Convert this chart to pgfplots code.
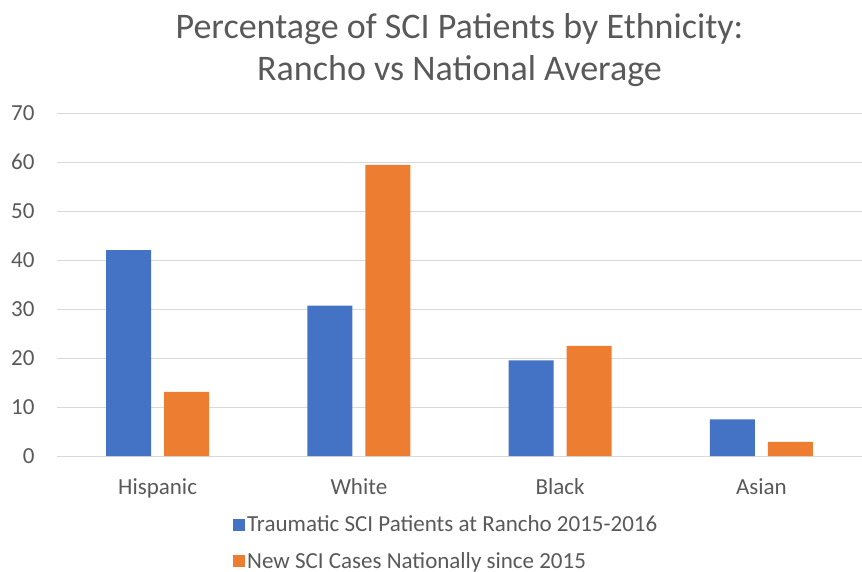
\documentclass[border=0pt]{standalone}
\usepackage{pgfplots}
\pgfplotsset{compat=1.18}
\usepackage{fontspec}
\setmainfont{Carlito}
\definecolor{txt}{RGB}{89,89,89}
\definecolor{grd}{RGB}{217,217,217}
\definecolor{cblue}{RGB}{68,114,196}
\definecolor{corange}{RGB}{237,125,49}
\begin{document}
\begin{tikzpicture}[x=1pt,y=1pt]
\useasboundingbox (0,0) rectangle (862,571);
\begin{axis}[
  at={(57pt,115pt)}, anchor=south west,
  scale only axis, width=805pt, height=343pt,
  ybar, ymin=0, ymax=70, ytick={0,10,...,70},
  xmin=-0.5, xmax=3.5, xtick={0,1,2,3},
  xticklabels={Hispanic,White,Black,Asian},
  bar width=0.224,
  axis line style={draw=none},
  major tick length=0pt,
  ymajorgrids, grid style={grd, line width=0.9pt},
  tick label style={font=\fontsize{23}{27}\selectfont, text=txt},
  /pgf/number format/assume math mode=true,
  yticklabel style={xshift=-19pt},
  xticklabel style={yshift=-19pt},
  title={Percentage of SCI Patients by Ethnicity:\\Rancho vs National Average},
  title style={align=center, font=\fontsize{36}{42}\selectfont, text=txt, yshift=17pt},
  legend style={at={(0.2149,-0.162)}, anchor=north west, draw=none, fill=none,
    font=\fontsize{23}{27}\selectfont, text=txt, row sep=15pt, legend cell align=left,
    /tikz/every even column/.style={column sep=0pt}},
  legend image code/.code={\fill[#1] (-4pt,-6pt) rectangle (8pt,6pt);},
]
\addplot[fill=cblue, draw=none, bar shift=-0.144] coordinates {(0,42) (1,30.7) (2,19.5) (3,7.5)};
\addlegendentry{Traumatic SCI Patients at Rancho 2015-2016}
\addplot[fill=corange, draw=none, bar shift=0.144] coordinates {(0,13.1) (1,59.4) (2,22.5) (3,2.9)};
\addlegendentry{New SCI Cases Nationally since 2015}
\end{axis}
\end{tikzpicture}
\end{document}
